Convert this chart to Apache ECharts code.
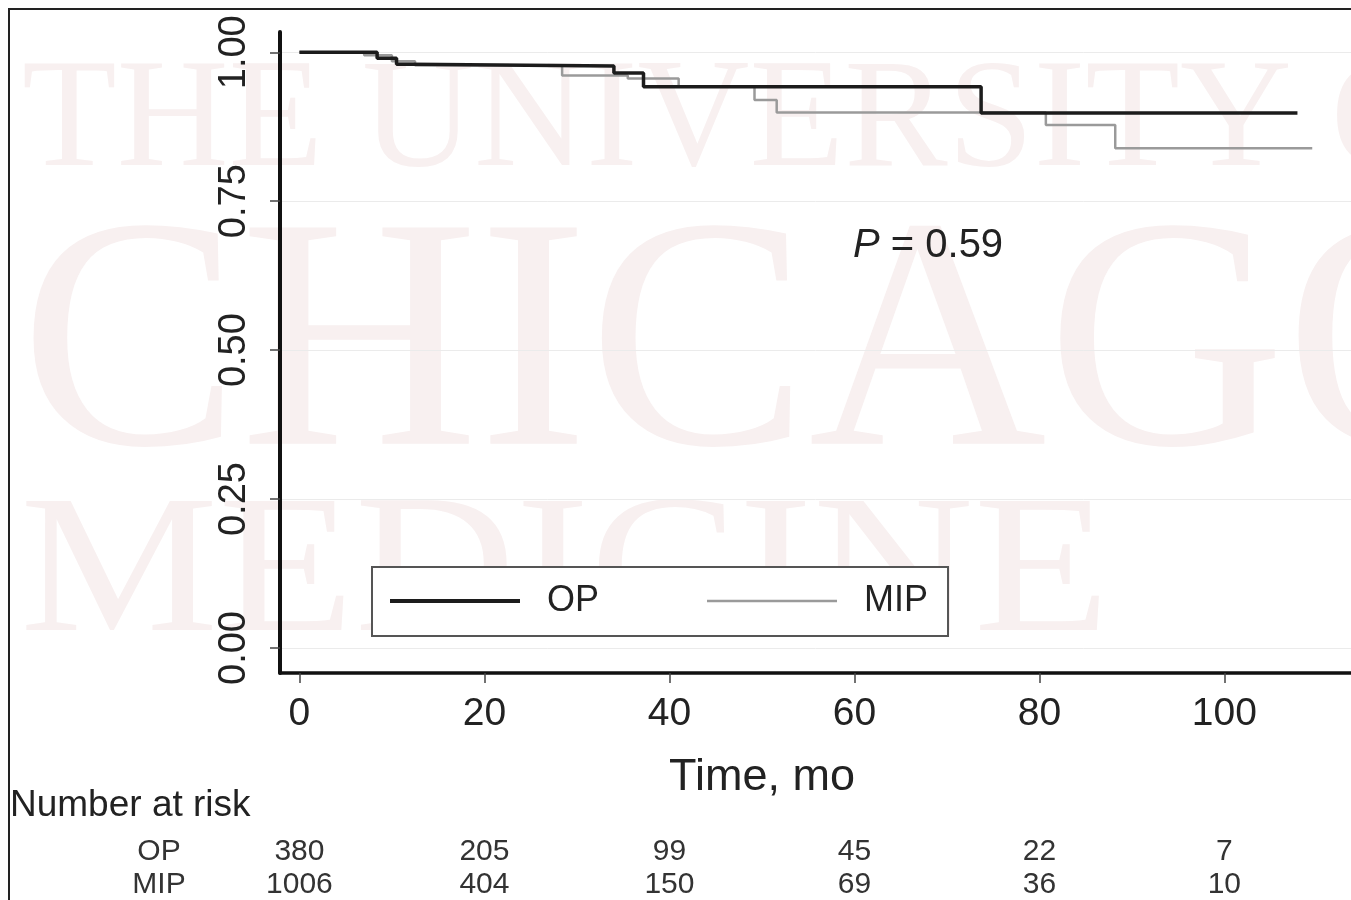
<!DOCTYPE html>
<html>
<head>
<meta charset="utf-8">
<script src="https://cdn.jsdelivr.net/npm/echarts@6/dist/echarts.min.js"></script>
<style>
html, body { margin: 0; padding: 0; background: #fff; }
#chart { width: 1351px; height: 900px; }
</style>
</head>
<body>
<div id="chart"></div>
<script>
// tick positions
const timeTicks = [0, 20, 40, 60, 80, 100]
const survivalTicks = [0, 0.25, 0.5, 0.75, 1]

// Kaplan-Meier steps: [month, survival after the step]
const opCurve = [
    [0, 1], [8.4, 0.99], [10.5, 0.98], [12, 0.977], [34, 0.965],
    [37.2, 0.942], [73.7, 0.898], [107.9, 0.898],
]
const mipCurve = [
    [0, 1], [7, 0.995], [10, 0.985], [12.5, 0.978], [28.4, 0.961],
    [35.5, 0.956], [41, 0.942], [49.2, 0.92], [51.6, 0.899],
    [80.7, 0.878], [88.2, 0.839], [109.5, 0.839],
]

// number at risk table
const riskGroups = ['OP', 'MIP']
const opAtRisk = [380, 205, 99, 45, 22, 7]
const mipAtRisk = [1006, 404, 150, 69, 36, 10]

const FONT = '"Liberation Sans", Arial, sans-serif'
const SERIF = '"Liberation Serif", "DejaVu Serif", serif'
const WM = '#f8f0f0'

const chart = echarts.init(document.getElementById('chart'))

const riskData = []
timeTicks.forEach((t, i) => {
    riskData.push([t, 'OP', opAtRisk[i]])
    riskData.push([t, 'MIP', mipAtRisk[i]])
})

const option = {
    animation: false,
    backgroundColor: '#fff',
    textStyle: { fontFamily: FONT },
    grid: [
        { left: 280, top: 32, width: 1100, height: 641 },
        // rows sit on the edges of this strip (boundaryGap false)
        { left: 280, top: 852, width: 1100, height: 40 },
    ],
    xAxis: [
        {
            type: 'value',
            gridIndex: 0,
            min: -2.1,
            max: 113.69,
            axisLine: { show: true, onZero: false, lineStyle: { color: '#111', width: 3.5 } },
            axisTick: { show: true, length: 10, customValues: timeTicks, lineStyle: { color: '#444', width: 1.5 } },
            axisLabel: { customValues: timeTicks, fontSize: 39, color: '#222', margin: 22 },
            splitLine: { show: false },
        },
        {
            type: 'value',
            gridIndex: 1,
            min: -2.1,
            max: 113.69,
            show: false,
        },
    ],
    yAxis: [
        {
            type: 'value',
            gridIndex: 0,
            min: -0.042,
            max: 1.034,
            axisLine: { show: true, onZero: false, lineStyle: { color: '#111', width: 4 } },
            axisTick: { show: true, length: 10, customValues: survivalTicks, lineStyle: { color: '#444', width: 1.5 } },
            axisLabel: {
                customValues: survivalTicks,
                rotate: 90,
                fontSize: 38,
                color: '#222',
                margin: 26,
                formatter: (v) => v.toFixed(2),
            },
            splitLine: { show: true, lineStyle: { color: '#ebebeb', width: 1 } },
        },
        {
            type: 'category',
            gridIndex: 1,
            data: riskGroups,
            inverse: true,
            boundaryGap: false,
            axisLine: { show: false },
            axisTick: { show: false },
            splitLine: { show: false },
            axisLabel: { interval: 0, hideOverlap: false, fontSize: 30, color: '#333', align: 'center', margin: 121 },
        },
    ],
    legend: {
        left: 372,
        top: 567,
        orient: 'horizontal',
        backgroundColor: '#fff',
        borderColor: '#555',
        borderWidth: 2,
        padding: [16, 20, 17, 18],
        itemWidth: 130,
        itemHeight: 36,
        itemGap: 108,
        textStyle: { fontSize: 36, color: '#222', padding: [0, 0, 0, 22] },
        data: [
            { name: 'OP', icon: 'path://M0,0H130V4H0Z' },
            { name: 'MIP', icon: 'path://M0,0H130V2.5H0Z' },
        ],
    },
    series: [
        {
            name: 'MIP',
            type: 'line',
            step: 'end',
            symbol: 'none',
            xAxisIndex: 0,
            yAxisIndex: 0,
            color: '#9a9a9a',
            lineStyle: { color: '#9a9a9a', width: 2.5 },
            data: mipCurve,
            z: 3,
        },
        {
            name: 'OP',
            type: 'line',
            step: 'end',
            symbol: 'none',
            xAxisIndex: 0,
            yAxisIndex: 0,
            color: '#1c1c1c',
            lineStyle: { color: '#1c1c1c', width: 3.5 },
            data: opCurve,
            z: 4,
        },
        {
            name: 'risk',
            type: 'scatter',
            xAxisIndex: 1,
            yAxisIndex: 1,
            symbolSize: 0,
            itemStyle: { opacity: 1 },
            label: {
                show: true,
                position: 'inside',
                fontSize: 30,
                color: '#333',
                formatter: (p) => p.value[2],
            },
            data: riskData,
        },
    ],
    graphic: [
        // watermark
        {
            type: 'text', z: -10, silent: true, x: 22, y: 124,
            style: { text: 'THE UNIVERSITY OF', font: '155px ' + SERIF, fill: WM, verticalAlign: 'middle' },
        },
        {
            type: 'text', z: -10, silent: true, x: 20, y: 357,
            style: { text: 'CHICAGO', font: '330px ' + SERIF, fill: WM, verticalAlign: 'middle' },
        },
        {
            type: 'text', z: -10, silent: true, x: 20, y: 578, scaleY: 0.88,
            style: { text: 'MEDICINE', font: '223px ' + SERIF, fill: WM, verticalAlign: 'middle' },
        },
        // frame
        {
            type: 'rect', z: 100, silent: true,
            shape: { x: 9, y: 9, width: 1500, height: 1000 },
            style: { fill: 'none', stroke: '#222', lineWidth: 2 },
        },
        {
            type: 'text', z: 10, x: 853, y: 246,
            style: {
                text: '{i|P} = 0.59',
                font: '40px ' + FONT,
                fill: '#222',
                verticalAlign: 'middle',
                rich: { i: { fontStyle: 'italic', fontSize: 40, fontFamily: FONT, fill: '#222' } },
            },
        },
        {
            type: 'text', z: 10, x: 762, y: 778,
            style: { text: 'Time, mo', font: '45px ' + FONT, fill: '#222', align: 'center', verticalAlign: 'middle' },
        },
        {
            type: 'text', z: 10, x: 10, y: 806,
            style: { text: 'Number at risk', font: '37px ' + FONT, fill: '#222', verticalAlign: 'middle' },
        },
    ],
}

chart.setOption(option)
</script>
</body>
</html>
